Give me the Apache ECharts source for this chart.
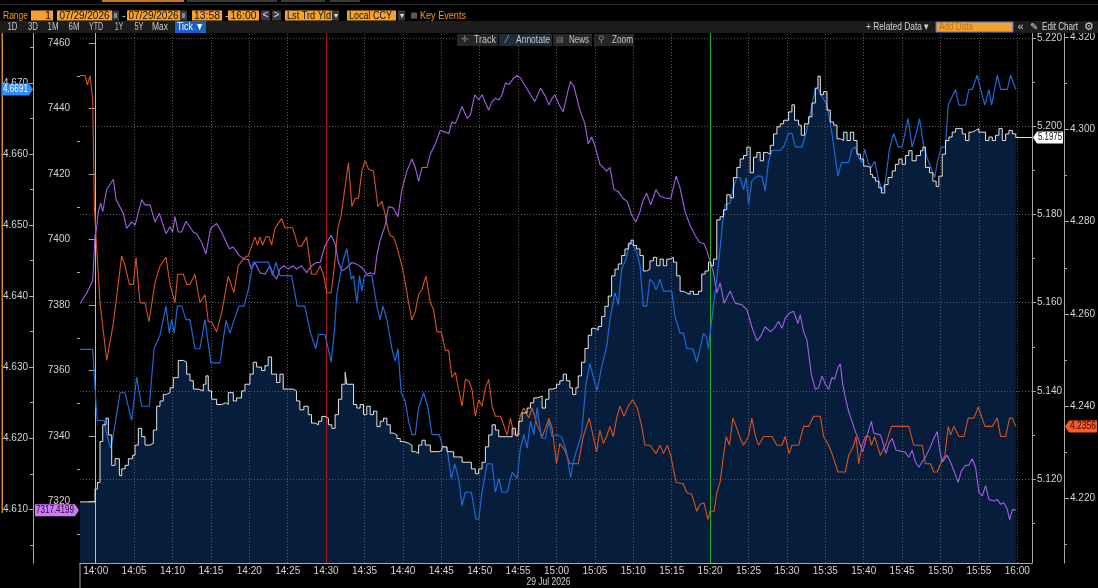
<!DOCTYPE html>
<html><head><meta charset="utf-8">
<script src="https://cdn.jsdelivr.net/npm/echarts@6/dist/echarts.min.js"></script>
<style>html,body{margin:0;padding:0;background:#000;overflow:hidden}#c{width:1098px;height:588px}</style>
</head><body><div id="c"></div>
<script>
// ---- data (x = minutes after 14:00, 29 Jul 2026) ----
const xTickLabels = ['14:00','14:05','14:10','14:15','14:20','14:25','14:30','14:35','14:40','14:45','14:50','14:55','15:00','15:05','15:10','15:15','15:20','15:25','15:30','15:35','15:40','15:45','15:50','15:55','16:00'];
const pTickLabels = [7320,7340,7360,7380,7400,7420,7440,7460];
const bTickLabels = [4.610,4.620,4.630,4.640,4.650,4.660,4.670];
const wTickLabels = [5.120,5.140,5.160,5.180,5.200,5.220];
const oTickLabels = [4.220,4.240,4.260,4.280,4.300,4.320];
const sessionOpen = '14:00';
const eventRed = '14:30';
const eventGreen = '15:20';
const dateLabel = '29 Jul 2026';

// white (area) series - right axis 5.xxx
const whiteTicks = [[-2.04,5.1148],[-0.39,5.1148],[-0.09,5.1177],[0.22,5.1192],[0.56,5.1285],[0.91,5.1323],[1.34,5.1338],[1.65,5.1300],[2.08,5.1231],[2.52,5.1246],[3.08,5.1208],[3.38,5.1223],[3.82,5.1231],[4.25,5.1246],[4.81,5.1254],[5.12,5.1277],[5.55,5.1315],[5.98,5.1296],[6.42,5.1277],[7.07,5.1281],[7.50,5.1311],[7.94,5.1365],[8.37,5.1377],[8.80,5.1392],[9.24,5.1396],[9.67,5.1407],[10.10,5.1430],[10.75,5.1469],[11.41,5.1465],[11.84,5.1438],[12.27,5.1423],[12.71,5.1404],[13.36,5.1400],[14.01,5.1415],[14.35,5.1434],[14.66,5.1400],[15.09,5.1381],[15.74,5.1369],[16.39,5.1373],[16.96,5.1369],[17.26,5.1396],[17.91,5.1377],[18.34,5.1384],[18.99,5.1400],[19.43,5.1415],[20.08,5.1438],[20.51,5.1465],[20.95,5.1454],[21.60,5.1446],[22.03,5.1457],[22.46,5.1477],[22.90,5.1438],[23.55,5.1419],[23.98,5.1438],[24.41,5.1404],[25.07,5.1404],[25.72,5.1400],[26.15,5.1377],[26.58,5.1357],[27.10,5.1365],[27.67,5.1346],[28.10,5.1327],[28.54,5.1323],
[29.00,5.1331],[29.43,5.1342],[29.87,5.1338],[30.30,5.1323],[30.74,5.1315],[31.17,5.1346],[31.61,5.1381],[32.04,5.1415],[32.48,5.1442],[32.70,5.1415],[33.57,5.1369],[34.00,5.1361],[34.43,5.1369],[34.87,5.1346],[35.30,5.1365],[35.74,5.1346],[36.17,5.1354],[36.61,5.1319],[37.04,5.1331],[37.48,5.1338],[37.91,5.1323],[38.35,5.1304],[38.78,5.1300],[39.22,5.1292],[39.65,5.1285],[40.09,5.1281],[40.74,5.1277],[41.17,5.1262],[41.61,5.1258],[42.04,5.1277],[42.48,5.1288],[42.91,5.1277],[43.57,5.1262],[44.65,5.1265],[45.09,5.1273],[45.74,5.1262],[46.61,5.1250],[47.70,5.1238],[48.91,5.1223],[49.43,5.1212],[49.87,5.1223],[50.30,5.1238],[50.74,5.1273],[51.17,5.1300],[51.61,5.1323],[52.04,5.1311],[52.48,5.1296],[54.22,5.1315],[54.65,5.1300],[55.09,5.1331],[55.52,5.1350],[56.17,5.1361],[56.61,5.1373],[57.04,5.1384],[57.48,5.1388],[58.13,5.1361],[58.57,5.1381],[59.00,5.1404],[59.52,5.1407],
[60.00,5.1415],[60.43,5.1423],[60.87,5.1438],[61.30,5.1423],[61.74,5.1407],[62.09,5.1392],[62.52,5.1407],[62.83,5.1434],[63.26,5.1465],[63.70,5.1496],[64.13,5.1526],[64.57,5.1542],[65.00,5.1538],[65.43,5.1546],[65.87,5.1569],[66.30,5.1592],[66.74,5.1615],[67.17,5.1661],[67.61,5.1676],[68.04,5.1688],[68.48,5.1707],[68.91,5.1722],[69.35,5.1734],[69.70,5.1742],[70.00,5.1730],[70.43,5.1722],[70.87,5.1707],[71.30,5.1672],[71.74,5.1676],[72.17,5.1695],[72.61,5.1703],[73.04,5.1684],[73.48,5.1699],[73.91,5.1684],[74.35,5.1699],[74.78,5.1703],[75.22,5.1692],[75.65,5.1661],[76.09,5.1626],[76.52,5.1622],[76.96,5.1619],[77.39,5.1626],[77.83,5.1619],[78.48,5.1626],[78.91,5.1665],[79.35,5.1672],[79.78,5.1692],[80.09,5.1684],[80.43,5.1699],[80.87,5.1788],[81.30,5.1795],[81.74,5.1811],[82.17,5.1845],[82.61,5.1838],[83.04,5.1884],[83.48,5.1907],[83.91,5.1926],[84.35,5.1934],[84.78,5.1953],[85.22,5.1895],[85.65,5.1930],[86.09,5.1941],[86.52,5.1922],[86.96,5.1941],[87.39,5.1937],[87.83,5.1957],[88.26,5.1983],[88.70,5.1999],[89.13,5.2006],[89.57,5.2014],
[90.22,5.2033],[90.65,5.2049],[91.00,5.2014],[91.52,5.2003],[91.87,5.1980],[92.30,5.2006],[92.83,5.2022],[93.26,5.2053],[93.70,5.2087],[94.04,5.2114],[94.35,5.2072],[94.78,5.2079],[95.22,5.2037],[95.65,5.2010],[96.09,5.2003],[96.52,5.1972],[96.96,5.1968],[97.39,5.1987],[97.83,5.1968],[98.26,5.1987],[98.70,5.1968],[99.13,5.1937],[99.57,5.1926],[100.00,5.1910],[100.43,5.1907],[100.87,5.1891],[101.17,5.1884],[101.52,5.1876],[101.96,5.1861],[102.30,5.1849],[102.74,5.1868],[103.17,5.1884],[103.70,5.1899],[104.13,5.1914],[104.57,5.1926],[105.00,5.1914],[105.43,5.1934],[105.87,5.1945],[106.30,5.1922],[106.83,5.1934],[107.39,5.1945],[107.70,5.1953],[108.04,5.1907],[108.57,5.1895],[109.00,5.1876],[109.43,5.1864],[109.78,5.1887],[110.22,5.1937],[110.65,5.1968],[111.09,5.1976],[111.52,5.1987],[111.96,5.1995],[112.83,5.1983],[113.26,5.1968],[113.70,5.1987],[114.13,5.1991],[114.57,5.1995],[115.00,5.1987],[115.87,5.1968],[116.30,5.1976],[116.74,5.1968],[117.17,5.1980],[117.61,5.1995],[118.04,5.1968],[118.48,5.1983],[118.91,5.1991],[119.35,5.1983],[119.80,5.1975]];

// blue series - left axis 4.6xx
const blueTicks = [[-2.04,4.6325],[-0.39,4.6325],[-0.22,4.6295],[0.04,4.6247],[0.22,4.6225],[1.08,4.6225],[1.43,4.6205],[1.95,4.6186],[2.30,4.6205],[3.17,4.6264],[3.82,4.6264],[4.68,4.6225],[5.33,4.6286],[5.98,4.6245],[6.98,4.6245],[7.59,4.6326],[8.37,4.6345],[9.15,4.6386],[9.58,4.6348],[9.89,4.6367],[10.23,4.6348],[10.62,4.6386],[11.19,4.6386],[11.75,4.6367],[12.27,4.6367],[12.92,4.6326],[13.57,4.6326],[14.22,4.6367],[15.00,4.6306],[16.18,4.6306],[16.96,4.6366],[17.48,4.6348],[18.04,4.6367],[18.65,4.6386],[19.30,4.6386],[19.86,4.6409],[20.51,4.6448],[22.46,4.6448],[23.03,4.6429],[23.46,4.6448],[23.98,4.6429],[25.50,4.6429],[26.24,4.6386],[27.23,4.6386],[27.97,4.6348],[28.66,4.6326],
[29.00,4.6346],[29.87,4.6346],[30.65,4.6307],[31.09,4.6352],[31.39,4.6402],[31.83,4.6429],[32.26,4.6452],[32.70,4.6467],[32.91,4.6467],[33.26,4.6424],[33.57,4.6429],[34.00,4.6390],[34.35,4.6429],[34.65,4.6407],[35.00,4.6429],[35.96,4.6429],[36.61,4.6386],[37.04,4.6367],[37.39,4.6386],[37.91,4.6367],[38.57,4.6326],[39.00,4.6309],[39.35,4.6326],[39.78,4.6264],[40.30,4.6252],[40.74,4.6224],[41.17,4.6205],[41.61,4.6205],[42.04,4.6243],[42.70,4.6264],[43.26,4.6243],[43.78,4.6205],[44.74,4.6205],[45.17,4.6188],[45.74,4.6186],[46.30,4.6143],[46.74,4.6164],[47.26,4.6143],[47.70,4.6105],[48.13,4.6124],[48.91,4.6124],[49.52,4.6086],[49.87,4.6086],[50.30,4.6124],[50.96,4.6164],[51.61,4.6164],[52.04,4.6124],[52.48,4.6143],[52.91,4.6124],[53.57,4.6124],[54.22,4.6152],[54.87,4.6143],[55.30,4.6186],[55.74,4.6205],[56.17,4.6186],[56.61,4.6224],[57.04,4.6205],[57.48,4.6243],[58.04,4.6200],[58.57,4.6200],[59.00,4.6224],[59.43,4.6202],
[60.00,4.6205],[60.65,4.6202],[61.30,4.6181],[61.83,4.6145],[62.17,4.6166],[62.61,4.6183],[63.26,4.6205],[63.83,4.6276],[64.35,4.6305],[64.87,4.6283],[65.30,4.6267],[65.87,4.6300],[66.52,4.6328],[66.96,4.6367],[67.61,4.6405],[68.04,4.6388],[68.48,4.6438],[69.04,4.6452],[69.57,4.6476],[70.00,4.6471],[70.43,4.6462],[70.87,4.6443],[71.30,4.6386],[71.74,4.6386],[72.17,4.6424],[72.61,4.6419],[72.96,4.6409],[73.48,4.6424],[73.91,4.6407],[75.00,4.6407],[75.43,4.6371],[76.09,4.6348],[76.52,4.6348],[76.96,4.6326],[77.74,4.6326],[78.26,4.6307],[78.70,4.6326],[79.13,4.6348],[79.48,4.6343],[79.78,4.6326],[80.00,4.6348],[80.43,4.6386],[80.87,4.6424],[81.30,4.6467],[81.65,4.6505],[81.96,4.6529],[82.61,4.6531],[82.96,4.6550],[83.48,4.6567],[83.91,4.6567],[84.35,4.6550],[84.70,4.6567],[85.00,4.6529],[85.43,4.6562],[86.09,4.6569],[86.74,4.6569],[87.17,4.6548],[87.61,4.6590],[88.04,4.6605],[89.13,4.6605],[89.57,4.6610],
[90.22,4.6629],[90.65,4.6629],[91.09,4.6610],[91.96,4.6610],[92.48,4.6629],[92.91,4.6650],[93.26,4.6669],[93.70,4.6691],[94.04,4.6693],[94.57,4.6681],[95.22,4.6669],[95.87,4.6629],[96.30,4.6595],[96.65,4.6569],[97.09,4.6588],[98.04,4.6588],[98.48,4.6607],[98.91,4.6610],[99.35,4.6595],[99.78,4.6588],[100.13,4.6607],[100.57,4.6588],[101.00,4.6581],[101.43,4.6590],[101.87,4.6567],[102.39,4.6548],[102.83,4.6562],[103.35,4.6607],[103.91,4.6629],[104.48,4.6610],[105.00,4.6610],[105.78,4.6650],[106.30,4.6610],[106.83,4.6629],[107.26,4.6650],[107.83,4.6610],[108.48,4.6588],[109.26,4.6567],[109.57,4.6588],[110.13,4.6610],[110.65,4.6610],[111.00,4.6669],[111.96,4.6691],[112.39,4.6669],[113.26,4.6669],[113.70,4.6691],[114.13,4.6691],[114.78,4.6711],[115.22,4.6691],[115.78,4.6669],[116.30,4.6691],[116.65,4.6669],[117.39,4.6711],[117.83,4.6691],[118.70,4.6691],[119.13,4.6711],[119.35,4.6710],[119.80,4.6691]];

// orange series - right axis 4.2xx/4.3xx
const orangeTicks = [[-2.04,4.3117],[-1.39,4.3117],[-1.08,4.3097],[-0.74,4.3117],[-0.39,4.3064],[-0.17,4.2829],[0.00,4.2778],[0.56,4.2624],[1.43,4.2499],[2.30,4.2580],[3.38,4.2726],[3.82,4.2704],[4.38,4.2664],[4.90,4.2664],[5.25,4.2723],[5.77,4.2624],[6.42,4.2624],[6.94,4.2583],[7.72,4.2668],[8.37,4.2704],[9.15,4.2723],[9.67,4.2664],[10.32,4.2624],[10.67,4.2686],[11.41,4.2686],[11.84,4.2664],[12.27,4.2664],[12.92,4.2686],[13.57,4.2624],[14.22,4.2642],[14.66,4.2583],[15.09,4.2583],[15.74,4.2561],[16.39,4.2602],[17.26,4.2682],[17.99,4.2646],[18.56,4.2704],[19.43,4.2723],[19.86,4.2726],[20.73,4.2767],[21.08,4.2749],[21.38,4.2767],[21.73,4.2749],[22.16,4.2767],[22.59,4.2767],[22.90,4.2749],[23.33,4.2785],[24.20,4.2807],[24.63,4.2787],[25.63,4.2787],[26.37,4.2747],[26.80,4.2747],[27.45,4.2767],[28.10,4.2686],[28.66,4.2686],
[29.22,4.2704],[29.65,4.2686],[30.09,4.2646],[30.65,4.2646],[31.09,4.2704],[31.52,4.2785],[31.96,4.2815],[32.39,4.2866],[32.91,4.2928],[33.35,4.2833],[33.78,4.2851],[34.22,4.2851],[34.65,4.2910],[35.09,4.2932],[35.52,4.2914],[36.17,4.2910],[36.74,4.2833],[37.26,4.2844],[37.70,4.2815],[38.04,4.2785],[38.35,4.2770],[38.78,4.2767],[39.22,4.2745],[39.87,4.2704],[40.30,4.2668],[40.74,4.2624],[41.17,4.2587],[41.61,4.2605],[42.04,4.2642],[42.48,4.2653],[43.00,4.2682],[43.57,4.2624],[44.00,4.2609],[44.43,4.2561],[45.00,4.2561],[45.52,4.2521],[45.96,4.2521],[46.39,4.2462],[46.83,4.2473],[47.26,4.2436],[47.70,4.2400],[48.13,4.2458],[48.57,4.2455],[49.00,4.2436],[49.43,4.2378],[49.87,4.2414],[50.30,4.2400],[50.74,4.2440],[51.17,4.2458],[51.61,4.2400],[52.04,4.2378],[52.70,4.2378],[53.13,4.2359],[53.57,4.2337],[54.00,4.2374],[54.43,4.2341],[54.87,4.2334],[55.30,4.2381],[55.74,4.2396],[56.39,4.2374],[56.83,4.2396],[57.48,4.2359],[58.13,4.2334],[58.57,4.2352],[59.00,4.2374],[59.43,4.2352],
[60.00,4.2275],[60.43,4.2319],[61.09,4.2304],[61.74,4.2275],[62.83,4.2275],[63.48,4.2334],[64.26,4.2374],[64.78,4.2334],[65.22,4.2301],[65.65,4.2348],[66.09,4.2319],[66.52,4.2334],[66.96,4.2356],[67.39,4.2334],[67.83,4.2374],[68.26,4.2400],[68.78,4.2378],[69.35,4.2400],[69.91,4.2414],[70.52,4.2396],[71.09,4.2356],[71.52,4.2315],[72.17,4.2315],[72.96,4.2297],[73.48,4.2315],[73.91,4.2297],[74.43,4.2315],[74.87,4.2293],[75.57,4.2235],[76.52,4.2231],[76.96,4.2212],[77.61,4.2209],[78.26,4.2172],[78.70,4.2187],[79.22,4.2190],[79.70,4.2154],[80.00,4.2172],[80.52,4.2172],[80.87,4.2212],[81.30,4.2235],[81.74,4.2293],[82.09,4.2334],[82.52,4.2315],[82.96,4.2374],[83.39,4.2356],[83.83,4.2334],[84.35,4.2315],[85.00,4.2334],[85.43,4.2374],[85.87,4.2337],[86.30,4.2315],[86.96,4.2334],[88.04,4.2334],[88.70,4.2315],[89.35,4.2315],[89.78,4.2334],
[90.30,4.2297],[90.65,4.2315],[91.52,4.2315],[92.17,4.2356],[92.83,4.2356],[93.48,4.2378],[94.35,4.2378],[94.78,4.2334],[95.43,4.2315],[95.87,4.2297],[96.65,4.2257],[97.61,4.2257],[98.04,4.2293],[98.70,4.2315],[99.00,4.2334],[99.35,4.2275],[99.78,4.2315],[100.22,4.2334],[100.74,4.2334],[101.00,4.2315],[101.43,4.2334],[102.17,4.2293],[102.83,4.2315],[103.61,4.2356],[105.87,4.2356],[106.52,4.2315],[107.61,4.2315],[108.04,4.2275],[108.70,4.2275],[109.13,4.2257],[109.57,4.2257],[110.00,4.2275],[110.57,4.2293],[111.00,4.2356],[111.30,4.2337],[111.74,4.2356],[112.39,4.2334],[113.04,4.2334],[113.61,4.2374],[114.35,4.2374],[114.91,4.2398],[115.78,4.2356],[116.74,4.2356],[117.39,4.2374],[117.83,4.2334],[118.48,4.2334],[119.00,4.2374],[119.35,4.2374],[119.80,4.2356]];

// purple series - left axis 7xxx
const purpleTicks = [[-2.04,7380.5],[-1.17,7383.7],[-0.39,7387.4],[-0.09,7401.3],[0.04,7402.3],[0.35,7408.5],[0.65,7411.1],[0.91,7408.5],[1.43,7415.3],[2.30,7418.4],[2.65,7412.2],[3.60,7408.0],[4.03,7403.4],[4.68,7405.4],[5.12,7404.4],[5.98,7412.2],[6.42,7410.6],[7.07,7410.6],[7.72,7405.4],[8.28,7408.0],[9.15,7401.8],[9.67,7403.9],[10.02,7402.3],[10.32,7407.0],[10.75,7402.3],[11.19,7402.3],[11.75,7405.6],[12.71,7402.3],[13.14,7401.8],[13.79,7399.2],[14.35,7395.6],[14.96,7403.4],[15.74,7404.9],[16.39,7402.3],[17.39,7397.2],[17.91,7397.7],[18.69,7395.1],[19.30,7394.1],[19.86,7393.9],[20.29,7391.0],[20.73,7393.0],[21.38,7389.9],[22.03,7389.4],[22.68,7392.0],[23.11,7389.4],[23.55,7387.9],[23.98,7391.0],[24.50,7392.0],[25.07,7391.0],[25.72,7392.0],[26.15,7391.0],[26.80,7392.0],[27.45,7389.9],[28.10,7392.0],[28.75,7393.0],
[29.22,7393.0],[29.87,7398.2],[30.65,7401.3],[31.17,7398.7],[31.61,7393.0],[32.04,7390.5],[32.48,7391.0],[32.91,7392.0],[33.35,7393.0],[34.00,7392.5],[34.65,7391.5],[35.30,7389.4],[35.74,7389.9],[36.30,7389.4],[36.61,7395.1],[37.04,7399.8],[37.70,7404.4],[38.13,7410.1],[38.78,7409.6],[39.35,7407.0],[39.87,7415.3],[40.52,7420.9],[41.17,7424.6],[41.61,7422.0],[42.04,7417.8],[42.48,7422.0],[43.13,7422.0],[43.57,7426.1],[44.22,7429.2],[44.87,7433.3],[45.52,7432.8],[45.96,7432.3],[46.39,7435.9],[46.83,7435.4],[47.70,7440.6],[48.35,7437.0],[48.78,7438.0],[49.35,7444.2],[49.87,7442.6],[50.30,7444.2],[51.17,7439.5],[51.61,7442.1],[52.04,7443.1],[52.48,7442.6],[52.91,7444.2],[53.35,7447.8],[53.78,7447.3],[54.43,7449.3],[54.87,7450.1],[55.30,7449.3],[55.96,7446.8],[56.61,7444.2],[57.17,7442.1],[57.91,7446.2],[58.57,7443.7],[59.00,7441.1],[59.43,7443.1],
[59.78,7444.2],[60.35,7441.1],[60.87,7439.0],[61.52,7445.7],[61.83,7448.3],[62.26,7446.8],[63.04,7439.5],[63.70,7435.4],[64.13,7429.2],[64.57,7431.3],[65.00,7428.7],[65.65,7423.0],[66.09,7422.0],[66.52,7420.9],[66.96,7422.0],[67.48,7415.3],[68.04,7414.7],[68.61,7412.7],[69.22,7411.6],[69.78,7407.5],[70.35,7405.4],[70.87,7408.5],[71.22,7411.6],[71.74,7414.2],[72.26,7410.6],[72.96,7415.3],[73.48,7413.2],[74.13,7412.7],[74.87,7412.5],[75.57,7419.4],[76.09,7415.8],[76.74,7408.5],[77.39,7404.4],[78.04,7401.3],[78.61,7399.2],[79.22,7398.7],[79.57,7396.7],[79.91,7394.1],[80.43,7389.9],[80.87,7383.7],[81.30,7386.8],[81.83,7380.6],[82.61,7384.3],[83.26,7380.6],[84.13,7380.1],[84.78,7378.6],[85.43,7373.4],[86.09,7369.1],[86.52,7370.3],[87.17,7373.4],[87.83,7371.9],[88.35,7372.9],[88.91,7375.0],[89.35,7372.9],[89.78,7376.0],
[90.30,7377.5],[90.87,7378.1],[91.43,7374.4],[91.74,7377.0],[92.17,7371.9],[92.61,7369.3],[93.17,7359.0],[93.70,7354.3],[94.13,7354.8],[94.57,7358.4],[95.00,7355.9],[95.43,7354.3],[95.87,7357.9],[96.22,7357.4],[96.65,7361.0],[96.96,7362.1],[97.26,7355.9],[97.61,7351.7],[98.04,7347.6],[98.48,7344.5],[98.91,7341.4],[99.35,7338.8],[99.87,7335.2],[100.22,7338.3],[100.65,7341.9],[101.00,7344.5],[101.30,7340.9],[102.17,7340.4],[102.48,7338.3],[102.91,7334.7],[103.26,7337.8],[103.70,7339.3],[104.22,7335.7],[105.35,7335.2],[105.87,7333.6],[106.30,7335.7],[106.74,7332.1],[107.17,7330.5],[107.61,7332.1],[108.04,7333.6],[108.57,7336.2],[109.13,7339.3],[109.57,7341.4],[109.87,7336.2],[110.22,7332.1],[110.87,7334.2],[111.30,7332.1],[111.74,7329.5],[112.30,7325.9],[112.74,7329.5],[113.26,7331.1],[113.70,7331.1],[114.13,7333.1],[114.57,7330.5],[115.00,7322.8],[115.43,7321.8],[115.87,7324.9],[116.30,7320.7],[116.96,7320.2],[117.39,7320.7],[117.83,7319.2],[118.26,7319.7],[118.70,7317.6],[119.00,7314.5],[119.35,7317.6],[119.80,7317.4199]];

// ---- view extents ----
const X_MIN = -2.044, X_MAX = 121.91;
const P_RANGE = [7301.29, 7463.05];
const B_RANGE = [4.60244, 4.67704];
const W_RANGE = [5.10094, 5.2212];
const O_RANGE = [4.20597, 4.32093];

// fonts: use a genuinely narrow face if present, otherwise squeeze Liberation Sans
const mctx = document.createElement('canvas').getContext('2d');
function tw(s, size, fam){ mctx.font = size + 'px ' + fam; return mctx.measureText(s).width; }
const BASE = '"Liberation Sans",Arial,sans-serif';
const baseW = tw('07/29/2026 Edit Chart 7460', 20, BASE);
const condensed = ['DejaVu Sans Condensed','Liberation Sans Narrow','Roboto Condensed']
  .find(n => tw('07/29/2026 Edit Chart 7460', 20, '"' + n + '",' + BASE) < baseW * 0.9);
const FF = (condensed ? '"' + condensed + '",' : '') + BASE;
// squeeze factor so that a text of given size fits a target width
const fit = (text, size, target) => Math.min(1, target / tw(text, size, FF));
const AXFS = 10;

const toMin = s => { const a = s.split(':').map(Number); return a[0]*60 + a[1] - 840; };
const lastOf = a => a[a.length-1];
function minors(labels, range){
  const step = (labels[1]-labels[0])/2, out = [];
  for (let v = labels[0]-step; v <= labels[labels.length-1]+step+1e-9; v += 2*step){
    if (v >= range[0] && v <= range[1]) out.push(+v.toFixed(4));
  }
  return out;
}
const AXC = '#a9a9a9', LBC = '#d4d4d4';

function yAx(pos, offset, range, labels, dec, tickLen, margin){
  return {
    type:'value', position:pos, offset, min:range[0], max:range[1],
    axisLine:{show:true, lineStyle:{color:AXC, width:1}},
    axisTick:{show:true, customValues:labels, length:tickLen, lineStyle:{color:AXC}},
    axisLabel:{customValues:labels, formatter:v=>v.toFixed(dec), color:LBC, fontSize:AXFS, fontFamily:FF, margin},
    splitLine:{show:false}
  };
}
function yMinor(pos, offset, range, labels){
  return {
    type:'value', position:pos, offset, min:range[0], max:range[1],
    axisLine:{show:false}, axisLabel:{show:false}, splitLine:{show:false},
    axisTick:{show:true, customValues:minors(labels, range), length:3, lineStyle:{color:AXC}}
  };
}

const chart = echarts.init(document.getElementById('c'), null, {renderer:'canvas'});
const xTickVals = xTickLabels.map(toMin);
const gridLines = [];
xTickLabels.slice(1).forEach(t => gridLines.push({xAxis: toMin(t)}));
wTickLabels.forEach(v => gridLines.push({yAxis: v}));
gridLines.push({xAxis: toMin(sessionOpen), lineStyle:{type:'solid', color:'#bdbdbd', width:1}});
gridLines.push({xAxis: toMin(eventRed), lineStyle:{type:'solid', color:'#b0151f', width:1}});
gridLines.push({xAxis: toMin(eventGreen), lineStyle:{type:'solid', color:'#22b322', width:1}});

const wl = lastOf(whiteTicks);

chart.setOption({
  animation:false,
  backgroundColor:'#000',
  grid:{left:80, right:66, top:33, bottom:25, containLabel:false},
  xAxis:{
    type:'value', min:X_MIN, max:X_MAX,
    axisLine:{show:true, lineStyle:{color:AXC}},
    axisTick:{show:false}, splitLine:{show:false},
    axisLabel:{customValues:xTickVals, formatter:v=>{
      const t = Math.round(v)+840; return String(Math.floor(t/60)).padStart(2,'0')+':'+String(t%60).padStart(2,'0');
    }, color:LBC, fontSize:AXFS, fontFamily:FF, margin:3}
  },
  yAxis:[
    yAx('left', 0, P_RANGE, pTickLabels, 0, 7, 10),
    yAx('left', 47, B_RANGE, bTickLabels, 3, 4, 5),
    yAx('right', 0, W_RANGE, wTickLabels, 3, 4, 5),
    yAx('right', 32, O_RANGE, oTickLabels, 3, 5, 6),
    yMinor('left', 0, P_RANGE, pTickLabels),
    yMinor('left', 47, B_RANGE, bTickLabels),
    yMinor('right', 0, W_RANGE, wTickLabels),
    yMinor('right', 32, O_RANGE, oTickLabels)
  ],
  series:[
    {name:'area', type:'line', yAxisIndex:2, data:whiteTicks, step:'end', symbol:'none', z:1,
     lineStyle:{width:0, opacity:0}, areaStyle:{color:'#061e3b', opacity:1}, silent:true,
     markLine:{silent:true, symbol:['none','none'], z:2, label:{show:false},
       lineStyle:{type:[1,2], color:'#5a5a5a', width:1}, data:gridLines}},
    {name:'orange', type:'line', yAxisIndex:3, data:orangeTicks, symbol:'none', z:3,
     lineStyle:{color:'#d9531d', width:1.1}},
    {name:'purple', type:'line', yAxisIndex:0, data:purpleTicks, symbol:'none', z:3,
     lineStyle:{color:'#a35fe3', width:1.1}},
    {name:'blue', type:'line', yAxisIndex:1, data:blueTicks, symbol:'none', z:3,
     lineStyle:{color:'#1d69d6', width:1.2}},
    {name:'white', type:'line', yAxisIndex:2, data:whiteTicks, step:'end', symbol:'none', z:4,
     lineStyle:{color:'#e4e4e4', width:1},
     markLine:{silent:true, symbol:['none','none'], z:4, label:{show:false},
       lineStyle:{type:'solid', color:'#e4e4e4', width:1},
       data:[[{coord:[wl[0], wl[1]]},{coord:[X_MAX, wl[1]]}]]}}
  ]
});

// ---- graphics: toolbar + value flags ----
const G = [];
const box = (x,y,w,h,fill,stroke) => G.push({type:'rect', z:100, silent:true, shape:{x,y,width:w,height:h}, style:{fill, stroke:stroke||null, lineWidth:stroke?1:0}});
// text squeezed to a target width (w); w = 0 means no squeeze
function txt(x,y,text,fill,size,align,w){
  const s = w ? fit(text, size, w) : 1;
  G.push({type:'text', z:101, silent:true, x, y, scaleX:s, scaleY:1, originX:0, originY:0,
    style:{text, fill, font:'normal '+size+'px '+FF, textAlign:align||'left', textVerticalAlign:'middle', align:align||'left', verticalAlign:'middle'}});
}
const ORG = '#f6a12d', ORT = '#f59a23';

// top tabs strip
box(0,4,1098,1,'#2a2a2a');
box(102,0,82,2,'#c9781a'); box(187,0,90,2,'#3a3a3a'); box(281,0,44,2,'#3a3a3a'); box(330,0,30,2,'#3a3a3a');
// row 2
txt(3,15.5,'Range',ORT,11.5,'left',25);
box(31,10.5,22,10,ORG); txt(51,15.5,'1','#111',11,'right');
box(57,10.5,55,10,ORG); txt(84.5,15.5,'07/29/2026','#111',11,'center',50);
box(112,10.5,7,10,'#3a3a3a'); box(114,13,3,5,'#8a8a8a');
txt(122,15.5,'-','#cccccc',11);
box(127,10.5,53,10,ORG); txt(153.5,15.5,'07/29/2026','#111',11,'center',50);
box(180,10.5,7,10,'#3a3a3a'); box(182,13,3,5,'#8a8a8a');
box(192,10.5,30,10,ORG); txt(207,15.5,'13:58','#111',11,'center',26);
txt(225,15.5,'-','#cccccc',11);
box(228,10.5,31,10,ORG); txt(243.5,15.5,'16:00','#111',11,'center',26);
box(261,10.5,9,10,'#3a3a3a'); txt(265.5,15.5,'<','#e0e0e0',10,'center');
box(272,10.5,9,10,'#3a3a3a'); txt(276.5,15.5,'>','#e0e0e0',10,'center');
box(285,10.5,47,10,ORG); txt(287,15.5,'Lst Trd Yld','#111',11.5,'left',44);
box(332,10.5,7,10,'#3a3a3a'); txt(335.5,15.5,'▾','#e0e0e0',8,'center');
box(347,10.5,49,10,ORG); txt(349,15.5,'Local CCY','#111',11.5,'left',43);
box(398,10.5,7,10,'#3a3a3a'); txt(401.5,15.5,'▾','#e0e0e0',8,'center');
box(411,12.5,6,6,'#5a5a5a');
txt(420,15.5,'Key Events',ORT,11.5,'left',46);
// row 3
box(0,21,1098,12,'#1c1c1c');
[['1D',12.5,10],['3D',33,10],['1M',53,11],['6M',74,11],['YTD',96,14],['1Y',119,8],['5Y',139,9],['Max',160,16]].forEach(a=>txt(a[1],27,a[0],'#c8c8c8',10.5,'center',a[2]));
box(175,21,31,12,'#1c5fc6'); txt(190.5,27,'Tick ▼','#ffffff',10.5,'center',27);
txt(866,27,'+ Related Data ▾','#d2d2d2',10.5,'left',63);
box(936,22,77,10,ORG,'#3b7be0'); txt(939,27,'Add Data','#b87416',10.5,'left',34);
txt(1020.5,27,'«','#d2d2d2',11,'center');
txt(1034,27,'✎','#d2d2d2',10,'center');
txt(1042,27,'Edit Chart','#d2d2d2',10.5,'left',36);
txt(1089,27,'⚙','#d2d2d2',11,'center');
// plot buttons
box(457,34,41,12,'#262626'); txt(465,40,'✛','#8a8a8a',9,'center'); txt(474,40,'Track','#c8c8c8',10.5,'left',22);
box(499,34,53,12,'#1f2c3c'); txt(507,40,'⁄','#9a9a9a',10,'center'); txt(516,40,'Annotate','#c8c8c8',10.5,'left',34);
box(553,34,39,12,'#262626'); txt(560,40,'▤','#8a8a8a',8,'center'); txt(569,40,'News','#c8c8c8',10.5,'left',20);
box(594,34,40,12,'#262626'); txt(601,40,'⚲','#8a8a8a',9,'center'); txt(612,40,'Zoom','#c8c8c8',10.5,'left',21);
// left orange bar and axis extension
box(1.5,33,1.5,480,'#d98a1e');
box(79.5,563,1,25,AXC);
// date under 15:00
const x15 = chart.convertToPixel({xAxisIndex:0}, toMin('15:00'));
txt(x15+14,582,dateLabel,LBC,10,'right',44);

// value flags
function flag(axisIdx, value, tipX, farX, text, fill, color){
  const y = chart.convertToPixel({yAxisIndex:axisIdx}, value);
  const d = farX > tipX ? 1 : -1, h = 6;
  G.push({type:'polygon', z:102, silent:true, shape:{points:[[tipX,y],[tipX+4*d,y-h],[farX,y-h],[farX,y+h],[tipX+4*d,y+h]]}, style:{fill}});
  const inner = Math.abs(farX - tipX) - 6;
  const s = fit(text, 10.5, inner);
  G.push({type:'text', z:103, silent:true, x:(tipX+4*d+farX)/2, y:y, scaleX:s, scaleY:1,
    style:{text, fill:color, font:'normal 10.5px '+FF, textAlign:'center', textVerticalAlign:'middle', align:'center', verticalAlign:'middle'}});
}
flag(1, lastOf(blueTicks)[1], 33, 2, lastOf(blueTicks)[1].toFixed(4), '#2d8cff', '#ffffff');
flag(0, lastOf(purpleTicks)[1], 79, 35, lastOf(purpleTicks)[1].toFixed(4), '#cd7cf5', '#24062f');
flag(2, lastOf(whiteTicks)[1], 1033, 1063, lastOf(whiteTicks)[1].toFixed(4), '#ffffff', '#111111');
flag(3, lastOf(orangeTicks)[1], 1065, 1097, lastOf(orangeTicks)[1].toFixed(4), '#ff5a1f', '#2a0800');

chart.setOption({graphic:{elements:G}});
</script></body></html>
